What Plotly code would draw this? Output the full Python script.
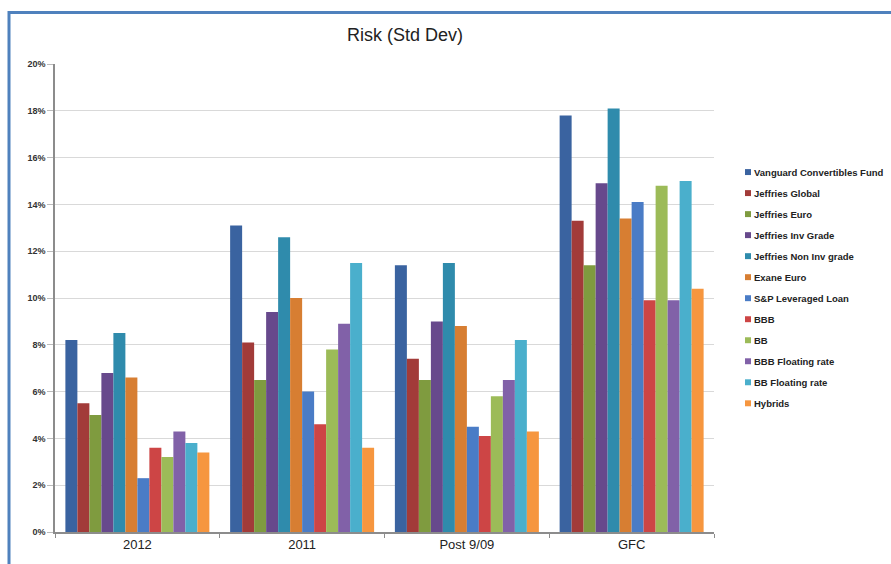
import plotly.graph_objects as go

# Periods on the x axis
periods = ["2012", "2011", "Post 9/09", "GFC"]

# Fund / index names, in legend order
series_names = [
    "Vanguard Convertibles Fund",
    "Jeffries Global",
    "Jeffries Euro",
    "Jeffries Inv Grade",
    "Jeffries Non Inv grade",
    "Exane Euro",
    "S&P Leveraged Loan",
    "BBB",
    "BB",
    "BBB Floating rate",
    "BB Floating rate",
    "Hybrids",
]

# Standard deviation (%) per series, one value per period
vanguard_conv   = [8.2, 13.1, 11.4, 17.8]
jeffries_global = [5.5, 8.1, 7.4, 13.3]
jeffries_euro   = [5.0, 6.5, 6.5, 11.4]
jeffries_inv    = [6.8, 9.4, 9.0, 14.9]
jeffries_noninv = [8.5, 12.6, 11.5, 18.1]
exane_euro      = [6.6, 10.0, 8.8, 13.4]
sp_lev_loan     = [2.3, 6.0, 4.5, 14.1]
bbb             = [3.6, 4.6, 4.1, 9.9]
bb              = [3.2, 7.8, 5.8, 14.8]
bbb_float       = [4.3, 8.9, 6.5, 9.9]
bb_float        = [3.8, 11.5, 8.2, 15.0]
hybrids         = [3.4, 3.6, 4.3, 10.4]

series_values = [
    vanguard_conv, jeffries_global, jeffries_euro, jeffries_inv,
    jeffries_noninv, exane_euro, sp_lev_loan, bbb, bb, bbb_float,
    bb_float, hybrids,
]

colors = [
    "#3A63A0", "#A23B39", "#7F9B3F", "#67498C", "#2F8BAC", "#D77E32",
    "#4A7CC6", "#CD4545", "#9CBB58", "#8161A8", "#4AAFCC", "#F6963F",
]

y_ticks = [0, 2, 4, 6, 8, 10, 12, 14, 16, 18, 20]
y_tick_labels = ["0%", "2%", "4%", "6%", "8%", "10%", "12%", "14%", "16%", "18%", "20%"]

fig = go.Figure()
for name, vals, col in zip(series_names, series_values, colors):
    fig.add_trace(go.Bar(
        x=periods, y=vals, name=name,
        marker=dict(color=col, line=dict(width=0)),
        showlegend=False,
    ))

# Plot-area geometry (pixels) used to place the frame and the legend
W, H = 891, 564
L, R, T, B = 55, 177, 64, 28
PW, PH = W - L - R, H - T - B


def px_x(x):
    return (x - L) / PW


def px_y(y):
    return 1 - (y - T) / PH


shapes = []
annotations = []

# Blue frame on the left and top edges
shapes.append(dict(
    type="path", xref="paper", yref="paper",
    path=f"M {px_x(9)},{px_y(H + 5)} L {px_x(9)},{px_y(12)} L {px_x(W + 5)},{px_y(12)}",
    line=dict(color="#4F81BD", width=3),
))

# Legend: small colour squares with labels
leg_x, leg_y0, leg_dy = 745, 173, 21.2
for i, (name, col) in enumerate(zip(series_names, colors)):
    yc = leg_y0 + i * leg_dy
    shapes.append(dict(
        type="rect", xref="paper", yref="paper",
        x0=px_x(leg_x), x1=px_x(leg_x + 6),
        y0=px_y(yc + 3), y1=px_y(yc - 3),
        fillcolor=col, line=dict(width=0),
    ))
    annotations.append(dict(
        text=name, xref="paper", yref="paper",
        x=px_x(leg_x + 7), y=px_y(yc), xanchor="left", yanchor="middle",
        showarrow=False,
        font=dict(family="Arial, Liberation Sans", size=9.5, color="#222222", weight="bold"),
    ))

# Title
annotations.append(dict(
    text="Risk (Std Dev)", xref="paper", yref="paper",
    x=px_x(405), y=px_y(35), xanchor="center", yanchor="middle",
    showarrow=False,
    font=dict(family="Arial, Liberation Sans", size=18, color="#222222"),
))

fig.update_layout(
    width=W, height=H,
    margin=dict(l=L, r=R, t=T, b=B),
    paper_bgcolor="white", plot_bgcolor="white",
    barmode="group", bargap=0.126, bargroupgap=0,
    shapes=shapes, annotations=annotations,
    showlegend=False,
)

fig.update_xaxes(
    type="category",
    showline=True, linecolor="#8C8C8C", linewidth=1.5,
    ticks="outside", tickson="boundaries", ticklen=4, tickcolor="#8C8C8C",
    tickfont=dict(family="Arial, Liberation Sans", size=13, color="#222222"),
    showgrid=False,
)

fig.update_yaxes(
    range=[0, 20], tickmode="array", tickvals=y_ticks, ticktext=y_tick_labels,
    showline=True, linecolor="#8C8C8C", linewidth=1.5,
    ticks="outside", ticklen=6, tickcolor="#BBBBBB",
    showgrid=True, gridcolor="#D9D9D9", gridwidth=1,
    zeroline=False,
    tickfont=dict(family="Arial, Liberation Sans", size=9, color="#333333", weight="bold"),
)

fig.write_html("out.html")
